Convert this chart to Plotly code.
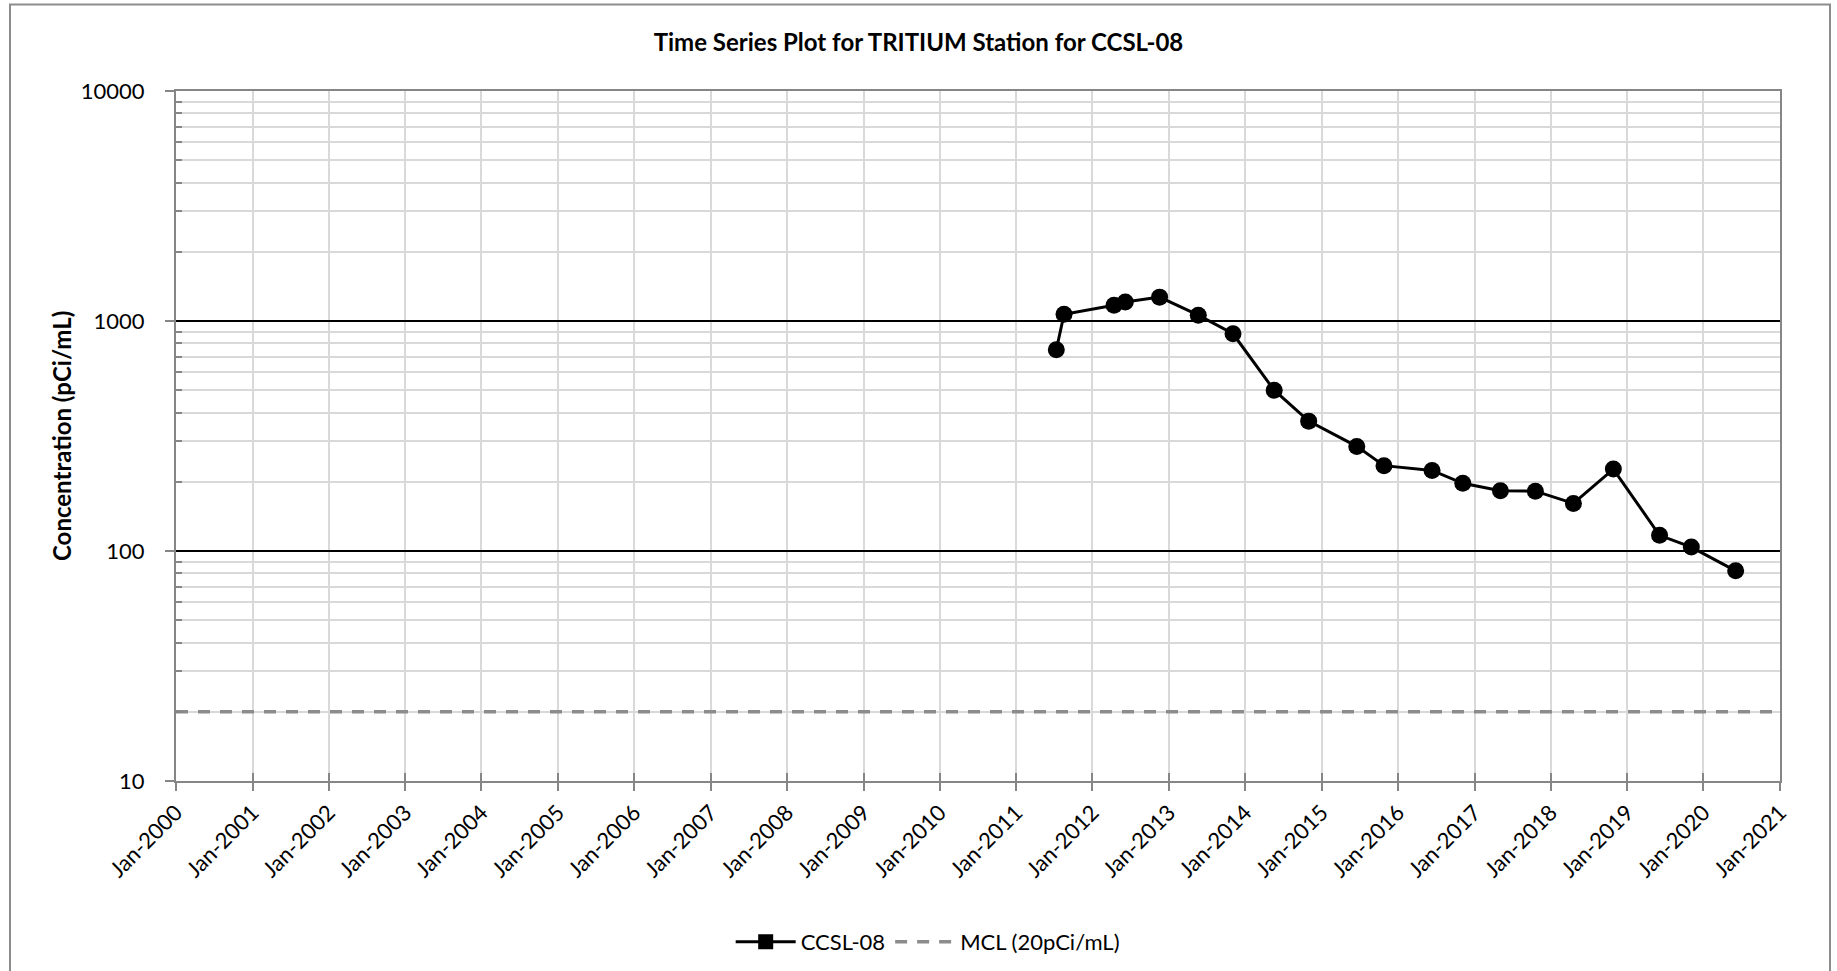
import plotly.graph_objects as go

# ---- data ----
sample_dates = [
    "2011-07-12", "2011-08-18", "2012-04-13", "2012-06-06", "2012-11-17",
    "2013-05-21", "2013-11-03", "2014-05-19", "2014-10-31", "2015-06-18",
    "2015-10-26", "2016-06-12", "2016-11-06", "2017-05-05", "2017-10-19",
    "2018-04-19", "2018-10-27", "2019-06-05", "2019-11-04", "2020-06-03",
]
tritium = [750, 1070, 1170, 1210, 1270, 1060, 880, 500, 367, 285,
           235, 224, 197, 183, 182, 161, 227, 117, 104, 82]

mcl_dates = ["2000-01-01", "2021-01-01"]
mcl_values = [20, 20]

tick_years = list(range(2000, 2022))
tick_dates = [f"{y}-01-01" for y in tick_years]
tick_labels = [f"Jan-{y}" for y in tick_years]

y_major = [10, 100, 1000, 10000]
y_minor = [m * d for d in (10, 100, 1000) for m in range(2, 10)]

title_text = "Time Series Plot for TRITIUM Station for CCSL-08"
y_title = "Concentration (pCi/mL)"
series_name = "CCSL-08"
mcl_name = "MCL (20pCi/mL)"

FONT = "Lato, 'Open Sans', sans-serif"
GRID = "#d9d9d9"
AXIS = "#868686"

fig = go.Figure()

fig.add_trace(go.Scatter(
    x=mcl_dates, y=mcl_values, mode="lines", name=mcl_name,
    line=dict(color="#8c8c8c", width=3.5, dash="12px,10px"),
    showlegend=False, hoverinfo="skip",
))
fig.add_trace(go.Scatter(
    x=sample_dates, y=tritium, mode="lines+markers", name=series_name,
    line=dict(color="black", width=3),
    marker=dict(symbol="circle", size=17, color="black"),
    showlegend=False,
))
# legend entries (Excel legend shows square marker)
fig.add_trace(go.Scatter(
    x=[None], y=[None], mode="lines+markers", name=series_name,
    line=dict(color="black", width=3),
    marker=dict(symbol="square", size=15, color="black"),
))
fig.add_trace(go.Scatter(
    x=[None], y=[None], mode="lines", name=mcl_name,
    line=dict(color="#8c8c8c", width=3.5, dash="12px,10px"),
))

fig.update_layout(
    width=1837, height=971,
    margin=dict(l=176, r=57, t=91, b=190),
    paper_bgcolor="white", plot_bgcolor="white",
    font=dict(family=FONT, color="black", size=22),
    title=dict(text=f"<b>{title_text}</b>", x=0.5, xref="container",
               y=1 - 43 / 971, yref="container", yanchor="middle", xanchor="center",
               font=dict(family=FONT, size=24, color="black")),
    legend=dict(orientation="h", xref="container", yref="container",
                x=0.505, xanchor="center", y=1 - 942 / 971, yanchor="middle",
                font=dict(family=FONT, size=22), itemwidth=60,
                bgcolor="rgba(0,0,0,0)"),
    xaxis=dict(
        type="date", range=["2000-01-01", "2021-01-01"],
        tickvals=tick_dates, ticktext=tick_labels, tickangle=-45,
        showgrid=True, gridcolor=GRID, gridwidth=1.5,
        showline=True, linecolor=AXIS, linewidth=2, mirror=True,
        ticks="outside", ticklen=8, tickcolor=AXIS, tickwidth=1.5,
        tickfont=dict(family=FONT, size=22), zeroline=False,
    ),
    xaxis2=dict(
        type="date", range=["2000-01-01", "2021-01-01"], overlaying="x",
        anchor="y", side="bottom", tickvals=tick_dates, showticklabels=False,
        showgrid=False, ticks="inside", ticklen=8, tickcolor=AXIS, tickwidth=1.5,
        showline=False, zeroline=False,
    ),
    yaxis=dict(
        type="log", range=[1, 4], tickvals=y_major,
        ticktext=[str(v) for v in y_major],
        showgrid=True, gridcolor="black", gridwidth=1.5,
        showline=True, linecolor=AXIS, linewidth=2, mirror=True,
        ticks="outside", ticklen=9, tickcolor=AXIS, tickwidth=1.5,
        ticklabelstandoff=16,
        tickfont=dict(family=FONT, size=22),
        minor=dict(tickvals=y_minor, showgrid=True, gridcolor=GRID, gridwidth=1.5,
                   ticks="inside", ticklen=6, tickcolor=AXIS, tickwidth=1.5),
        zeroline=False,
    ),
    annotations=[dict(
        text=f"<b>{y_title}</b>", textangle=-90, xref="paper", yref="paper",
        x=(61 - 176) / 1604, y=0.5, xanchor="center", yanchor="middle",
        showarrow=False, font=dict(family=FONT, size=24, color="black"),
    )],
    shapes=[dict(
        type="rect", xref="paper", yref="paper",
        x0=(10 - 176) / 1604, x1=(1830 - 176) / 1604,
        y0=-0.35, y1=(780.7 - 5) / 689.2,
        line=dict(color="#8c8c8c", width=2), fillcolor="rgba(0,0,0,0)",
    )],
)
# dummy trace to activate xaxis2
fig.add_trace(go.Scatter(x=[None], y=[None], xaxis="x2", showlegend=False, hoverinfo="skip"))

fig.write_html("out.html", config={"displayModeBar": False},
               post_script="document.body.style.margin='0';document.body.style.overflow='hidden';")
